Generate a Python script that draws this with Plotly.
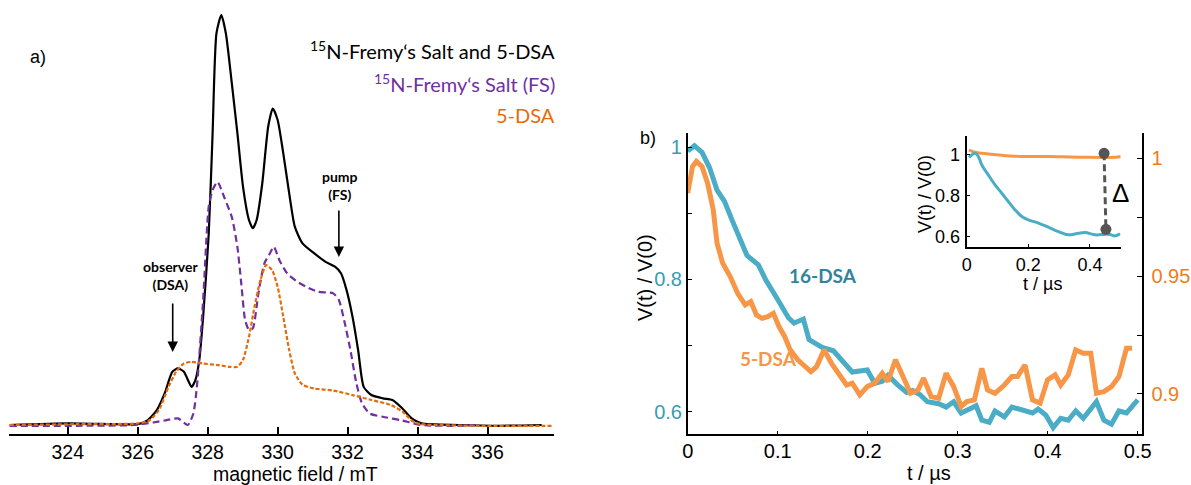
import plotly.graph_objects as go

W, H = 1191, 485

# ---------------- panel a) EPR spectra (arbitrary intensity) ----------------
field_black = [322.34, 324.03, 325.35, 326.0, 326.28, 326.55, 326.77, 326.99, 327.15, 327.32,
               327.54, 327.65, 327.76, 327.87, 328.03, 328.14, 328.25, 328.39, 328.52, 328.69,
               328.85, 329.01, 329.18, 329.29, 329.4, 329.56, 329.73, 329.86, 330.0, 330.16,
               330.33, 330.49, 330.71, 331.04, 331.37, 331.64, 331.81, 331.97, 332.14, 332.3,
               332.46, 332.68, 333.01, 333.28, 333.56, 333.83, 334.11, 335.2, 336.3, 337.55]
int_black = [0.0, 0.004, 0.002, 0.002, 0.011, 0.037, 0.077, 0.130, 0.138, 0.130,
             0.093, 0.110, 0.159, 0.264, 0.467, 0.711, 0.955, 1.000, 0.955, 0.833,
             0.711, 0.581, 0.500, 0.480, 0.500, 0.589, 0.728, 0.772, 0.744, 0.663,
             0.565, 0.484, 0.443, 0.419, 0.398, 0.386, 0.370, 0.329, 0.264, 0.183,
             0.093, 0.073, 0.065, 0.061, 0.041, 0.016, 0.004, 0.0, -0.002, 0.0]

field_fs = [322.34, 324.25, 325.9, 326.44, 326.77, 327.15, 327.43, 327.59, 327.7, 327.87,
            328.03, 328.14, 328.28, 328.47, 328.69, 328.85, 328.96, 329.07, 329.18, 329.29,
            329.45, 329.62, 329.78, 329.89, 330.05, 330.27, 330.55, 330.82, 331.15, 331.59,
            331.75, 331.92, 332.08, 332.25, 332.41, 332.63, 333.01, 333.56, 334.11, 335.2, 335.75]
int_fs = [-0.002, -0.002, 0.0, 0.006, 0.011, 0.016, 0.0, 0.028, 0.102, 0.305,
          0.533, 0.573, 0.593, 0.556, 0.507, 0.434, 0.345, 0.256, 0.232, 0.236,
          0.321, 0.394, 0.419, 0.435, 0.402, 0.370, 0.350, 0.337, 0.325, 0.321,
          0.305, 0.248, 0.183, 0.102, 0.053, 0.028, 0.020, 0.011, 0.0, -0.002, 0.0]

field_dsa = [322.34, 324.25, 326.0, 326.33, 326.61, 326.88, 327.1, 327.32, 327.54, 327.87,
             328.3, 328.63, 328.85, 329.01, 329.18, 329.34, 329.51, 329.67, 329.84, 330.0,
             330.16, 330.33, 330.49, 330.71, 331.04, 331.59, 332.14, 332.68, 333.23, 333.56,
             333.88, 334.11, 335.75, 337.83]
int_dsa = [0.0, 0.002, 0.004, 0.011, 0.037, 0.093, 0.130, 0.150, 0.154, 0.150,
           0.146, 0.142, 0.142, 0.159, 0.215, 0.289, 0.354, 0.390, 0.378, 0.337,
           0.264, 0.183, 0.126, 0.098, 0.089, 0.084, 0.073, 0.061, 0.049, 0.033,
           0.008, 0.002, -0.002, -0.002]

field_ticks = [324, 326, 328, 330, 332, 334, 336]

# ---------------- panel b) DEER traces ----------------
t_16 = [0.0, 0.0075, 0.0159, 0.0242, 0.0326, 0.0409, 0.0492, 0.0576, 0.0659, 0.0785,
        0.0868, 0.0993, 0.1119, 0.1181, 0.1285, 0.1348, 0.1494, 0.1619, 0.1703, 0.1828,
        0.1995, 0.2078, 0.2162, 0.2225, 0.2329, 0.2433, 0.2496, 0.2579, 0.2663, 0.2788,
        0.2871, 0.2955, 0.3038, 0.3164, 0.3205, 0.3268, 0.3351, 0.3414, 0.3518, 0.3602,
        0.3748, 0.3831, 0.3894, 0.3977, 0.4061, 0.4144, 0.4228, 0.4311, 0.4395, 0.4541,
        0.4624, 0.4708, 0.4791, 0.4875, 0.5000]
v_16 = [0.994, 1.002, 0.992, 0.969, 0.935, 0.918, 0.890, 0.861, 0.836, 0.822,
        0.799, 0.771, 0.742, 0.734, 0.740, 0.709, 0.697, 0.692, 0.680, 0.660,
        0.663, 0.643, 0.646, 0.655, 0.641, 0.629, 0.632, 0.626, 0.615, 0.612,
        0.607, 0.615, 0.598, 0.607, 0.609, 0.587, 0.584, 0.601, 0.592, 0.607,
        0.601, 0.598, 0.604, 0.595, 0.576, 0.590, 0.587, 0.601, 0.590, 0.615,
        0.587, 0.581, 0.601, 0.598, 0.618]

t_5 = [0.0, 0.0054, 0.0096, 0.0159, 0.0221, 0.0284, 0.0326, 0.0388, 0.0472, 0.0555,
       0.0639, 0.0701, 0.0764, 0.0826, 0.0889, 0.0952, 0.1014, 0.1077, 0.1139, 0.1223,
       0.1285, 0.1369, 0.1432, 0.1515, 0.1598, 0.1682, 0.1765, 0.1828, 0.1912, 0.1995,
       0.2078, 0.2162, 0.2225, 0.2308, 0.2392, 0.2475, 0.2558, 0.2621, 0.2705, 0.2788,
       0.2871, 0.2955, 0.3038, 0.3101, 0.3185, 0.3268, 0.3331, 0.3414, 0.3518, 0.3602,
       0.3664, 0.3748, 0.3831, 0.3915, 0.3998, 0.4082, 0.4144, 0.4228, 0.4311, 0.4395,
       0.4478, 0.4541, 0.4624, 0.4708, 0.4791, 0.4875, 0.4937]
v_5 = [0.9852, 0.9965, 0.9986, 0.9965, 0.9894, 0.9781, 0.9639, 0.9555, 0.9498, 0.9427,
       0.9378, 0.9392, 0.9335, 0.9321, 0.9328, 0.9342, 0.9286, 0.9244, 0.9187, 0.9145,
       0.9123, 0.9095, 0.9116, 0.9187, 0.9130, 0.9088, 0.9038, 0.9046, 0.8996, 0.9031,
       0.9046, 0.9088, 0.9053, 0.9145, 0.9074, 0.9003, 0.9017, 0.9067, 0.8989, 0.8982,
       0.9088, 0.9031, 0.8947, 0.8968, 0.8975, 0.9109, 0.9017, 0.9003, 0.9038, 0.9074,
       0.9074, 0.9123, 0.8975, 0.8961, 0.9060, 0.9081, 0.9038, 0.9081, 0.9187, 0.9173,
       0.9173, 0.9003, 0.9010, 0.9031, 0.9074, 0.9194, 0.9194]

# inset (full traces)
t_in_16 = [0.0075, 0.027, 0.038, 0.049, 0.070, 0.092, 0.114, 0.135, 0.157, 0.179,
           0.200, 0.233, 0.265, 0.298, 0.330, 0.363, 0.385, 0.417, 0.461, 0.482, 0.498]
v_in_16 = [0.985, 1.005, 0.989, 0.949, 0.900, 0.852, 0.811, 0.771, 0.730, 0.698,
           0.682, 0.666, 0.646, 0.625, 0.609, 0.617, 0.620, 0.609, 0.612, 0.604, 0.614]
t_in_5 = [0.0075, 0.027, 0.070, 0.157, 0.265, 0.373, 0.482, 0.500]
v_in_5 = [1.021, 1.010, 1.002, 0.991, 0.989, 0.986, 0.986, 0.989]
t_delta = [0.446, 0.452]
v_delta = [1.005, 0.636]

t_ticks = [0, 0.1, 0.2, 0.3, 0.4, 0.5]
t_ticklabels = ["0", "0.1", "0.2", "0.3", "0.4", "0.5"]
vl_ticks = [0.6, 0.7, 0.8, 0.9, 1.0]
vl_labels = ["0.6", " ", "0.8", " ", "1"]
vr_ticks = [0.9, 0.925, 0.95, 0.975, 1.0]
vr_labels = ["0.9", " ", "0.95", " ", "1"]
in_xticks = [0, 0.2, 0.4]
in_xlabels = ["0", "0.2", "0.4"]
in_yticks = [0.6, 0.8, 1.0]
in_ylabels = ["0.6", "0.8", "1"]

# ---------------- styling ----------------
BLACK = "#000000"
PURPLE = "#7030a0"
ORANGE_A = "#e46c0a"
TEAL = "#4bacc6"
ORANGE_B = "#f79646"
TEAL_TXT = "#3a9bb4"
ORANGE_TXT = "#ef7d1c"
ARIAL = "Liberation Sans, Arial, sans-serif"
CAL = "Lato, Open Sans, sans-serif"


def px(x):
    return x / W


def py(y):
    return 1 - y / H


fig = go.Figure()

fig.add_trace(go.Scatter(x=field_black, y=int_black, mode="lines", line=dict(color=BLACK, width=2.2, shape="spline", smoothing=0.6),
                         xaxis="x", yaxis="y", showlegend=False))
fig.add_trace(go.Scatter(x=field_fs, y=int_fs, mode="lines", line=dict(color=PURPLE, width=2.2, dash="7px,4px", shape="spline", smoothing=0.6),
                         xaxis="x", yaxis="y", showlegend=False))
fig.add_trace(go.Scatter(x=field_dsa, y=int_dsa, mode="lines", line=dict(color=ORANGE_A, width=2.2, dash="4px,2px", shape="spline", smoothing=0.6),
                         xaxis="x", yaxis="y", showlegend=False))

fig.add_trace(go.Scatter(x=t_16, y=v_16, mode="lines", line=dict(color=TEAL, width=5),
                         xaxis="x2", yaxis="y2", showlegend=False))
fig.add_trace(go.Scatter(x=t_5, y=v_5, mode="lines", line=dict(color=ORANGE_B, width=5),
                         xaxis="x2", yaxis="y3", showlegend=False))

fig.add_trace(go.Scatter(x=t_in_5, y=v_in_5, mode="lines", line=dict(color=ORANGE_B, width=3, shape="spline"),
                         xaxis="x4", yaxis="y4", showlegend=False))
fig.add_trace(go.Scatter(x=t_in_16, y=v_in_16, mode="lines", line=dict(color=TEAL, width=3, shape="spline"),
                         xaxis="x4", yaxis="y4", showlegend=False))
fig.add_trace(go.Scatter(x=t_delta, y=v_delta, mode="lines+markers",
                         line=dict(color="#555555", width=3, dash="7px,4px"),
                         marker=dict(color="#555555", size=11),
                         xaxis="x4", yaxis="y4", showlegend=False))

axis_common = dict(showgrid=False, zeroline=False, showline=True, linecolor=BLACK, automargin=False)

fig.update_layout(
    width=W, height=H,
    margin=dict(l=0, r=0, t=0, b=0),
    paper_bgcolor="white", plot_bgcolor="rgba(0,0,0,0)",
    xaxis=dict(domain=[px(9), px(554)], range=[322.32, 337.9], anchor="y",
               tickvals=field_ticks, ticks="inside", ticklen=7, tickwidth=1.5, tickcolor=BLACK,
               linewidth=2, tickfont=dict(family=ARIAL, size=19.5, color=BLACK), ticklabelstandoff=-1,
               **axis_common),
    yaxis=dict(domain=[py(434.3), 1.0], range=[-0.0227, 1.0366], anchor="x", visible=False),
    xaxis2=dict(domain=[px(687.7), px(1141.7)], range=[0, 0.5044], anchor="y2",
                tickvals=t_ticks, ticktext=t_ticklabels, ticks="inside", ticklen=4, tickcolor=BLACK,
                linewidth=1.5, tickfont=dict(family=ARIAL, size=20, color=BLACK), ticklabelstandoff=-2,
                **axis_common),
    yaxis2=dict(domain=[py(434.3), py(132.7)], range=[0.5658, 1.0217], anchor="x2",
                tickvals=vl_ticks, ticktext=vl_labels, ticks="inside", ticklen=5, tickcolor=BLACK,
                linewidth=1.5, tickfont=dict(family=ARIAL, size=20, color=TEAL_TXT), ticklabelstandoff=0,
                **axis_common),
    yaxis3=dict(range=[0.8829, 1.0108], overlaying="y2", side="right", anchor="x2",
                tickvals=vr_ticks, ticktext=vr_labels, ticks="inside", ticklen=5, tickcolor=BLACK,
                linewidth=1.5, tickfont=dict(family=ARIAL, size=20, color=ORANGE_TXT), ticklabelstandoff=4,
                **axis_common),
    xaxis4=dict(domain=[px(966.7), px(1120.7)], range=[0, 0.5], anchor="y4",
                tickvals=in_xticks, ticktext=in_xlabels, ticks="inside", ticklen=3, tickcolor=BLACK,
                linewidth=2, tickfont=dict(family=ARIAL, size=18, color=BLACK), ticklabelstandoff=0,
                **axis_common),
    yaxis4=dict(domain=[py(247.3), py(136)], range=[0.5485, 1.089], anchor="x4",
                tickvals=in_yticks, ticktext=in_ylabels, ticks="inside", ticklen=3, tickcolor=BLACK,
                linewidth=2, tickfont=dict(family=ARIAL, size=18, color=BLACK), ticklabelstandoff=1,
                **axis_common),
)

ann = []


def text(x, y, s, size, color=BLACK, family=ARIAL, xanchor="center", angle=0):
    ann.append(dict(x=px(x), y=py(y), xref="paper", yref="paper", text=s, showarrow=False,
                    font=dict(family=family, size=size, color=color), xanchor=xanchor, yanchor="middle",
                    textangle=angle))


text(38, 57, "a)", 18)
text(557, 50, "<sup>15</sup>N-Fremy‘s Salt and 5-DSA", 20, BLACK, CAL, "right")
text(557, 83, "<sup>15</sup>N-Fremy‘s Salt (FS)", 20, PURPLE, CAL, "right")
text(557, 115, "5-DSA", 20, ORANGE_A, CAL, "right")
text(170.5, 275, "<b>observer</b><br><b>(DSA)</b>", 14, BLACK, CAL)
text(340, 186, "<b>pump</b><br><b>(FS)</b>", 14, BLACK, CAL)
text(295, 474, "magnetic field / mT", 19.5)
text(648, 138, "b)", 18)
text(645, 278, "V(t) / V(0)", 20, angle=-90)
text(929, 473, "t / µs", 20)
text(925, 194, "V(t) / V(0)", 18, angle=-90)
text(1042, 284, "t / µs", 18)
text(823, 275, "<b>16-DSA</b>", 19, "#31849b", CAL)
text(768, 358, "<b>5-DSA</b>", 19, ORANGE_B, CAL)
text(1120, 193, "Δ", 26)

# arrows (pointing at positions in the spectrum)
ann.append(dict(x=327.0, y=0.178, xref="x", yref="y", ax=0, ay=-50, text="", showarrow=True,
                arrowhead=2, arrowsize=1.3, arrowwidth=1.6, arrowcolor=BLACK))
ann.append(dict(x=331.75, y=0.41, xref="x", yref="y", ax=0, ay=-48, text="", showarrow=True,
                arrowhead=2, arrowsize=1.3, arrowwidth=1.6, arrowcolor=BLACK))

fig.update_layout(annotations=ann)

fig.write_html("out.html")
